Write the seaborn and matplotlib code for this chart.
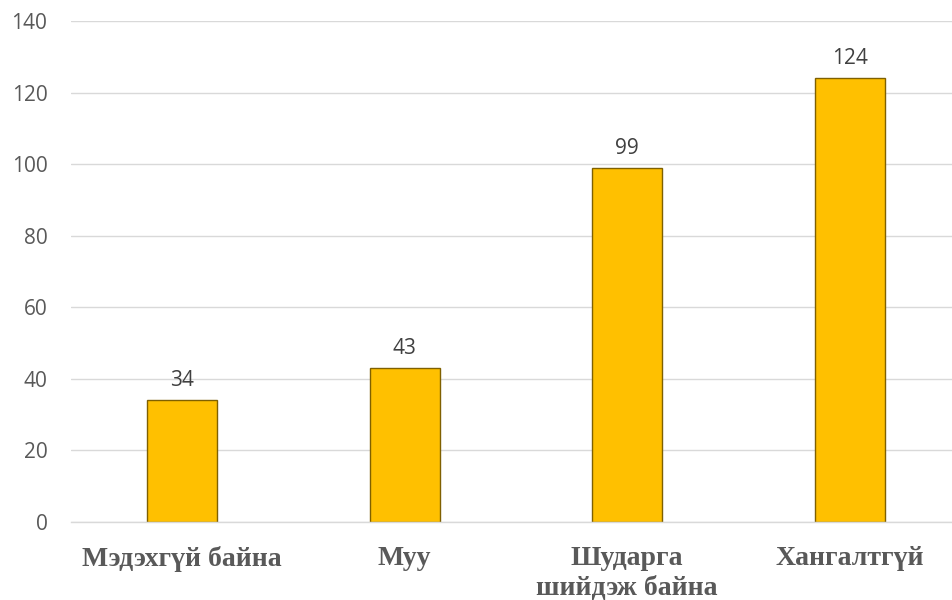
import matplotlib
matplotlib.use("Agg")
import matplotlib.pyplot as plt
import seaborn as sns
import pandas as pd

# data
categories = ["Мэдэхгүй байна", "Муу", "Шударга\nшийдэж байна", "Хангалтгүй"]
values = [34, 43, 99, 124]
yticks = [0, 20, 40, 60, 80, 100, 120, 140]

df = pd.DataFrame({"cat": categories, "val": values})

sns.set_theme(style="white")
plt.rcParams["font.family"] = ["Open Sans", "DejaVu Sans"]

fig = plt.figure(figsize=(9.52, 6.0), dpi=100)
ax = fig.add_axes([71 / 952, 1 - 522 / 600, 1 - 71 / 952, (522 - 21) / 600])

sns.barplot(data=df, x="cat", y="val", color="#FFC000", saturation=1,
            width=0.315, edgecolor="#7F6000", linewidth=1.0, ax=ax)

ax.set_ylim(0, 140)
ax.set_xlim(-0.5, 3.46)
ax.set_yticks(yticks)
ax.yaxis.grid(True, color="#D9D9D9", linewidth=1.0)
ax.set_axisbelow(True)
for s in ["top", "right", "left"]:
    ax.spines[s].set_visible(False)
ax.spines["bottom"].set_color("#D9D9D9")
ax.spines["bottom"].set_linewidth(1.0)

ax.tick_params(axis="y", length=0, pad=17, labelsize=15, labelcolor="#595959")
ax.tick_params(axis="x", length=0, pad=17)
ax.set_xticks(range(len(categories)))
ax.set_xticklabels(categories, fontfamily="Liberation Serif", fontweight="bold",
                   fontsize=20, color="#595959", linespacing=1.3, va="top")
ax.set_xlabel("")
ax.set_ylabel("")

ax.bar_label(ax.containers[0], labels=[str(v) for v in values], padding=6.5,
             fontsize=15, color="#404040")

fig.savefig("out.png", dpi=100)
